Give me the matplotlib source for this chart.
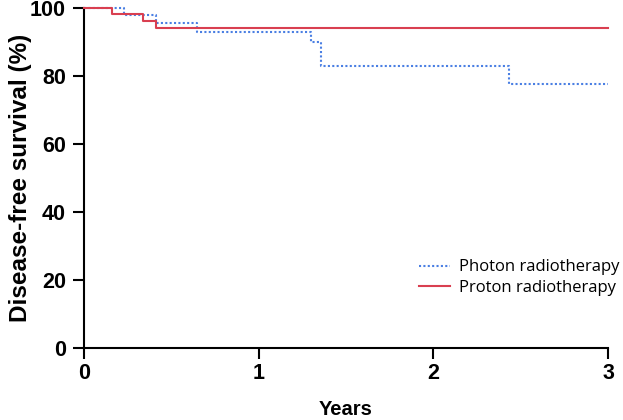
import numpy as np
import matplotlib
matplotlib.use('Agg')
import matplotlib.pyplot as plt

# Kaplan-Meier step data (years, survival %)
photon_t = [0.0, 0.23, 0.415, 0.645, 1.30, 1.357, 2.435, 3.0]
photon_s = [100.0, 98.0, 95.5, 92.8, 90.0, 83.0, 77.5, 77.5]
proton_t = [0.0, 0.16, 0.34, 0.41, 3.0]
proton_s = [100.0, 98.2, 96.3, 94.0, 94.0]

xticks = [0, 1, 2, 3]
yticks = [0, 20, 40, 60, 80, 100]

fig = plt.figure(figsize=(6.23, 4.2), dpi=100)
ax = fig.add_axes([0.1348, 0.1714, 0.8412, 0.8096])

ax.step(photon_t, photon_s, where='post', color='#4a7fe3', lw=1.5,
        linestyle=(0, (1, 1.1)), label='Photon radiotherapy', clip_on=False, zorder=3)
ax.step(proton_t, proton_s, where='post', color='#d93f50', lw=1.5,
        label='Proton radiotherapy', clip_on=False, zorder=4)

ax.set_xlim(0, 3)
ax.set_ylim(0, 100)
ax.set_xticks(xticks)
ax.set_yticks(yticks)
for s in ['top', 'right']:
    ax.spines[s].set_visible(False)
for s in ['left', 'bottom']:
    ax.spines[s].set_linewidth(1.5)
ax.tick_params(width=1.5, length=8, labelsize=15.5)
ax.tick_params(axis='x', pad=3)
ax.tick_params(axis='y', pad=5)
for lab in ax.get_xticklabels() + ax.get_yticklabels():
    lab.set_fontfamily('Liberation Sans')
    lab.set_fontweight('bold')

ax.set_xlabel('Years', fontsize=14.5, fontweight='bold', family='Liberation Sans', labelpad=11)
ax.set_ylabel('Disease-free survival (%)', fontsize=17.5, fontweight='bold',
              family='Liberation Sans')
ax.yaxis.set_label_coords(-0.1, 0.5)

leg = ax.legend(loc='lower right', bbox_to_anchor=(1.05, 0.11), frameon=False,
                prop={'family': 'Open Sans', 'size': 12}, handlelength=1.9,
                handletextpad=0.5, labelspacing=0.25)

plt.savefig('out.png', dpi=100, facecolor='white')
